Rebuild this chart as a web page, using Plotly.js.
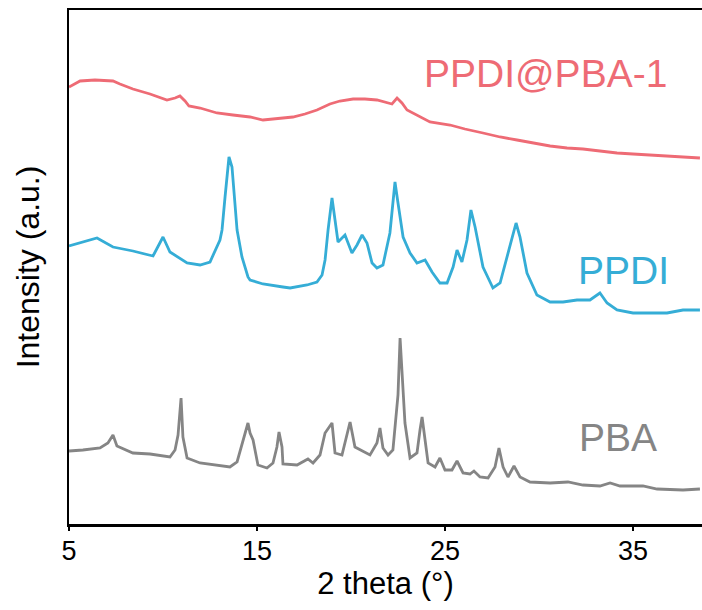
<!DOCTYPE html>
<html>
<head>
<meta charset="utf-8">
<script src="https://cdn.plot.ly/plotly-3.0.1.min.js"></script>
<style>html,body{margin:0;padding:0;background:#fff;}</style>
</head>
<body>
<div id="chart" style="width:702px;height:610px;"></div>
<script>
// PPDI@PBA-1 (red, top)
const redX = [5.0,5.3,5.59,6.38,7.34,7.71,8.40,9.31,10.21,10.64,10.9,11.17,11.38,11.97,12.87,13.72,14.63,15.32,15.96,16.91,17.55,18.19,18.88,19.41,20.11,20.74,21.38,21.97,22.18,22.45,22.71,22.98,23.67,24.2,25.27,26.06,27.02,27.93,28.83,29.68,30.59,31.49,32.34,33.24,34.15,35.0,35.9,36.8,37.66,38.56];
const redY = [437,440,443,444,443,440,435,430,424,426,428,423,418,416,411,409,407,404,405,407,410,414,420,423,425,425,424,421,420,426,421,414,407,402,399,395,391,387,384,381,378,376,375,373,371,370,369,368,367,366];

// PPDI (blue, middle)
const blueX = [5.00,6.49,7.34,8.40,9.47,10.00,10.37,11.28,11.97,12.50,13.03,13.14,13.30,13.46,13.51,13.67,13.83,13.94,14.20,14.52,14.63,15.32,16.38,16.76,17.66,18.19,18.46,18.62,18.78,18.88,18.99,19.15,19.31,19.68,20.05,20.32,20.59,20.85,21.12,21.38,21.70,22.07,22.23,22.34,22.50,22.77,23.14,23.51,23.94,24.31,24.73,25.11,25.43,25.64,25.90,26.17,26.38,26.60,27.02,27.55,27.93,28.35,28.78,28.99,29.36,29.89,30.59,31.28,32.02,32.71,33.24,33.62,34.15,35.00,35.90,36.81,37.66,38.56];
const blueY = [278,286,277,273,268,287,272,261,259,262,284,294,327,361,367,357,324,294,267,247,244,240,237,236,239,242,249,264,294,312,326,304,282,289,271,279,289,281,261,256,259,291,324,342,321,287,271,261,264,252,241,241,257,274,262,284,314,297,257,236,241,271,301,287,251,229,222,222,224,224,231,221,214,211,211,211,214,214];

// PBA (grey, bottom)
const grayX = [5.00,5.74,6.65,7.07,7.34,7.55,8.40,9.31,10.37,10.64,10.80,10.96,11.06,11.28,11.97,12.87,13.56,13.94,14.26,14.52,14.63,14.79,15.05,15.53,15.85,16.06,16.17,16.33,16.38,17.13,17.71,17.98,18.35,18.62,18.99,19.15,19.52,19.79,19.95,20.21,20.64,21.01,21.38,21.54,21.70,21.97,22.23,22.39,22.50,22.61,22.77,22.87,23.14,23.51,23.67,23.78,23.94,24.10,24.47,24.73,25.00,25.37,25.64,25.96,26.33,26.54,26.86,27.29,27.66,27.87,28.09,28.35,28.67,28.99,29.52,30.59,31.54,32.34,33.24,33.78,34.31,35.53,36.28,37.66,38.56];
const grayY = [73,74,76,81,89,78,71,70,67,74,89,126,87,66,61,59,57,62,84,101,91,84,59,56,61,77,92,77,60,59,65,61,69,91,101,71,69,91,102,77,73,69,81,96,76,69,74,104,129,186,129,101,66,71,94,107,84,61,57,66,54,54,63,51,50,53,47,46,57,76,57,47,58,47,42,41,42,39,38,41,38,38,35,34,35];

const tickVals = [5, 15, 25, 35];
const labels = ["PPDI@PBA-1", "PPDI", "PBA"];
const labelX = [30.37, 34.52, 34.2];
const labelY = [451, 254, 87];
const colors = ["#EE6B75", "#35ADD6", "#858585"];

const traces = [
  {x: redX, y: redY, mode: "lines", line: {color: colors[0], width: 2.8}, hoverinfo: "skip"},
  {x: blueX, y: blueY, mode: "lines", line: {color: colors[1], width: 2.8}, hoverinfo: "skip"},
  {x: grayX, y: grayY, mode: "lines", line: {color: colors[2], width: 2.8}, hoverinfo: "skip"}
];

const annotations = labels.map((t, i) => ({
  x: labelX[i], y: labelY[i], xref: "x", yref: "y", text: t, showarrow: false,
  font: {family: "Liberation Sans, Arial, sans-serif", size: 39, color: colors[i]},
  xanchor: "center", yanchor: "middle"
}));

const layout = {
  width: 702, height: 610,
  margin: {l: 69, r: 0, t: 10, b: 86, pad: 0},
  paper_bgcolor: "#fff", plot_bgcolor: "#fff",
  showlegend: false,
  font: {family: "Liberation Sans, Arial, sans-serif", color: "#000"},
  xaxis: {
    range: [5, 38.67], tickvals: tickVals, ticktext: tickVals.map(String),
    showline: true, linecolor: "#000", linewidth: 2.5, mirror: true,
    ticks: "outside", ticklen: 4, tickwidth: 2, tickcolor: "#000",
    ticklabelstandoff: -3,
    showgrid: false, zeroline: false,
    tickfont: {size: 27, color: "#000"},
    title: {text: "2 theta (°)", font: {size: 31, color: "#000"}, standoff: 0}
  },
  yaxis: {
    range: [0, 514], showticklabels: false, ticks: "",
    showline: true, linecolor: "#000", linewidth: 2.5, mirror: false,
    showgrid: false, zeroline: false,
    title: {text: "Intensity (a.u.)", font: {size: 32, color: "#000"}, standoff: 18}
  },
  annotations: annotations
};

Plotly.newPlot("chart", traces, layout, {staticPlot: true, displayModeBar: false});
</script>
</body>
</html>
